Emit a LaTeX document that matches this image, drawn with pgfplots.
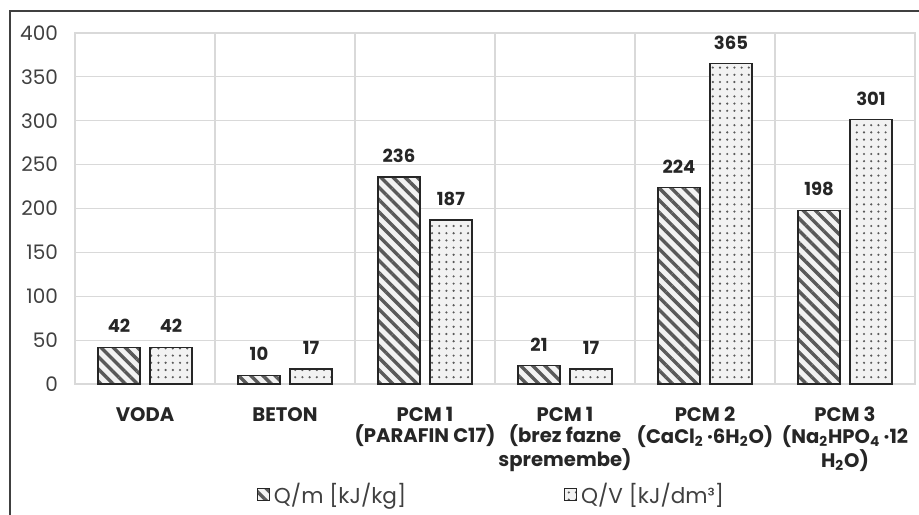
\documentclass[border=0pt]{standalone}
\usepackage{fontspec}
\setmainfont{Poppins}
\usepackage{pgfplots}
\pgfplotsset{compat=1.18}
\usetikzlibrary{patterns.meta}

\definecolor{gridgray}{HTML}{D9D9D9}
\definecolor{txt}{HTML}{262626}
\definecolor{ticktxt}{HTML}{404040}
\definecolor{hatchc}{HTML}{595959}
\definecolor{barbg}{HTML}{F2F2F2}

\pgfplotstableread{
x qm qv
0 42 42
1 10 17
2 236 187
3 21 17
4 224 365
5 198 301
}\energy

\begin{document}
\begin{tikzpicture}
\begin{axis}[
    scale only axis,
    width=420pt, height=175.5pt,
    ybar=5pt, bar width=21pt,
    xmin=-0.5, xmax=5.5, ymin=0, ymax=400,
    ytick={0,50,...,400},
    xtick={0,...,5},
    xticklabels={{VODA},{BETON},{PCM 1\\(PARAFIN C17)},{PCM 1\\(brez fazne\\spremembe)},{PCM 2\\(CaCl\textsubscript{2}\,·6H\textsubscript{2}O)},{PCM 3\\(Na\textsubscript{2}HPO\textsubscript{4}\,·12\\H\textsubscript{2}O)}},
    minor xtick={-0.5,0.5,...,5.5},
    xminorgrids, ymajorgrids,
    grid style={gridgray, line width=0.6pt},
    minor grid style={gridgray, line width=0.6pt},
    axis line style={gridgray, line width=0.6pt},
    major tick length=0pt, minor tick length=0pt,
    /pgf/number format/assume math mode=true,
    yticklabel style={font=\fontsize{10}{12}\selectfont, text=ticktxt, xshift=-5pt},
    xticklabel style={font=\bfseries\fontsize{9.8}{10.8}\selectfont, text=txt, align=center, anchor=north, yshift=-8pt},
    nodes near coords,
    every node near coord/.append style={font=\bfseries\fontsize{9}{10}\selectfont, text=txt, yshift=3.5pt},
    legend columns=2,
    legend style={at={(0.497,-0.316)}, anchor=center, draw=none, fill=none,
        font=\fontsize{10.8}{12}\selectfont, text=ticktxt,
        /tikz/every even column/.append style={column sep=77pt}},
    legend image code/.code={\draw[#1, line width=0.5pt] (0pt,-3pt) rectangle (6pt,3pt);},
]
\addplot[draw=txt, line width=0.6pt, fill=barbg, postaction={pattern={Lines[angle=-45, distance=4.3pt, line width=1.7pt]}, pattern color=hatchc}] table[x=x, y=qm] {\energy};
\addlegendentry{Q/m [kJ/kg]}
\addplot[draw=txt, line width=0.6pt, fill=barbg, postaction={pattern={Dots[distance=3.6pt, radius=0.6pt]}, pattern color=hatchc}] table[x=x, y=qv] {\energy};
\addlegendentry{Q/V [kJ/dm³]}
\end{axis}
\draw[ticktxt, line width=0.7pt] (-32.5pt,-70pt) -- (-32.5pt,186.5pt) -- (430pt,186.5pt);
\pgfresetboundingbox
\path[use as bounding box] (-37.5pt,-65pt) rectangle (422pt,192pt);
\end{tikzpicture}
\end{document}
